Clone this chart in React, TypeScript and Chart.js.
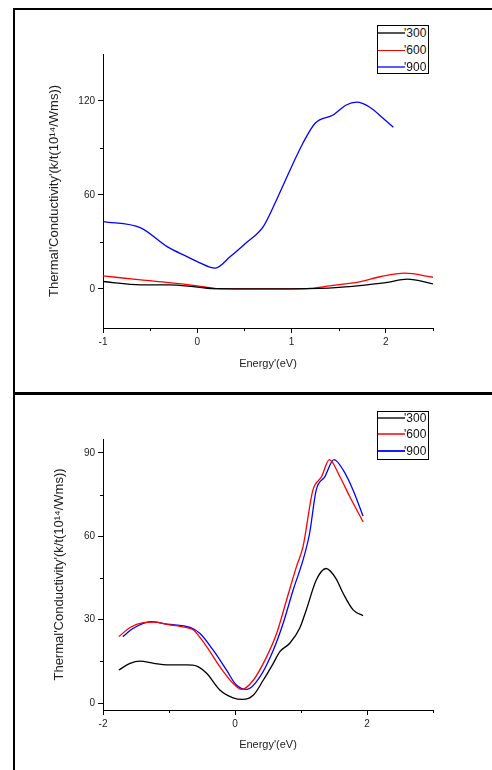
import React, { useEffect, useRef } from "react";
import { Chart, registerables } from "chart.js";
Chart.register(...registerables);

// ---------- Top panel data ----------
const topEnergy300 = [-1, -0.6, -0.3, 0, 0.2, 0.5, 1.0, 1.3, 1.5, 1.8, 2.0, 2.23, 2.5];
const topK300 = [4.7, 2.6, 2.6, 1.1, 0.1, 0, 0, 0.3, 1.0, 2.6, 4.0, 6.2, 3.2];
const topEnergy600 = [-1, -0.6, -0.3, 0, 0.2, 0.5, 1.0, 1.2, 1.4, 1.72, 1.95, 2.2, 2.5];
const topK600 = [8.3, 5.7, 4.0, 1.9, 0.2, 0, 0, 0.3, 1.9, 4.5, 7.9, 10, 7.4];
const topEnergy900 = [-1, -0.6, -0.32, -0.11, 0, 0.19, 0.35, 0.51, 0.7, 0.84, 1.0, 1.12, 1.25, 1.44, 1.58, 1.69, 1.83, 1.97, 2.08];
const topK900 = [43, 39, 27, 20.6, 17.4, 13.2, 20.6, 29, 39.8, 56.8, 78, 93, 105.8, 111, 117.4, 119.2, 116, 109, 103.2];
const topXMajor = [-1, 0, 1, 2];
const topXMinor = [-0.5, 0.5, 1.5, 2.5];
const topYMajor = [0, 60, 120];
const topYMinor = [30, 90];

// ---------- Bottom panel data ----------
const botEnergy300 = [-1.76, -1.59, -1.44, -1.23, -1.03, -0.73, -0.58, -0.43, -0.23, -0.03, 0.12, 0.28, 0.43, 0.58, 0.68, 0.83, 0.98, 1.08, 1.23, 1.38, 1.53, 1.64, 1.79, 1.94];
const botK300 = [11.9, 14.3, 15.1, 14.3, 13.7, 13.7, 13.3, 10.7, 4.7, 1.9, 1.3, 2.9, 8.3, 14.3, 18.5, 21.5, 26.9, 33.5, 44.2, 48.4, 44.8, 39.4, 33.5, 31.4];
const botEnergy600 = [-1.76, -1.59, -1.39, -1.23, -1.03, -0.73, -0.63, -0.43, -0.23, -0.03, 0.1, 0.28, 0.48, 0.63, 0.78, 0.93, 1.03, 1.18, 1.31, 1.43, 1.59, 1.74, 1.94];
const botK600 = [23.9, 27.2, 28.9, 29.1, 28.3, 27.1, 26.3, 20.3, 13.1, 7.1, 4.9, 8.3, 16.7, 25, 37, 49, 56.2, 76.6, 81.4, 87.6, 81.4, 74.2, 65.2];
const botEnergy900 = [-1.7, -1.54, -1.28, -1.03, -0.68, -0.53, -0.33, -0.13, 0.02, 0.18, 0.38, 0.58, 0.73, 0.88, 1.03, 1.13, 1.23, 1.36, 1.5, 1.64, 1.79, 1.94];
const botK900 = [23.9, 26.9, 29.3, 28.4, 27.2, 25, 19, 11.9, 6.5, 4.9, 9.5, 19, 28.7, 40.6, 51.4, 61, 76.6, 81.4, 87.6, 83.8, 76.6, 67.3];
const botXMajor = [-2, 0, 2];
const botXMinor = [-1, 1, 3];
const botYMajor = [0, 30, 60, 90];
const botYMinor = [15, 45, 75];

const seriesLabels = ["'300", "'600", "'900"];
const seriesColors = ["#000000", "#ff0000", "#0000ff"];
const yTitle = "Thermal'Conductivity'(k/t(10\u00B9\u2074/Wms))";
const xTitle = "Energy'(eV)";

const FONT = "'Liberation Sans', Arial, sans-serif";

const minorTickPlugin = {
  id: "minorTicks",
  afterDraw(chart: any, _args: any, opts: any) {
    const { ctx } = chart;
    const xs = chart.scales.x;
    const ys = chart.scales.y;
    ctx.save();
    ctx.strokeStyle = "#000";
    ctx.lineWidth = 1;
    ctx.beginPath();
    for (const v of opts.x || []) {
      const px = Math.round(xs.getPixelForValue(v)) + 0.5;
      ctx.moveTo(px, ys.bottom);
      ctx.lineTo(px, ys.bottom + 3);
    }
    for (const v of opts.y || []) {
      const py = Math.round(ys.getPixelForValue(v)) + 0.5;
      ctx.moveTo(xs.left, py);
      ctx.lineTo(xs.left - 3, py);
    }
    ctx.stroke();
    ctx.restore();
  },
};

function pts(xs: number[], ys: number[]) {
  return xs.map((x, i) => ({ x, y: ys[i] }));
}

type PanelProps = {
  width: number;
  height: number;
  series: { x: number[]; y: number[] }[];
  xMin: number;
  xMax: number;
  yMin: number;
  yMax: number;
  xMajor: number[];
  xMinor: number[];
  yMajor: number[];
  yMinor: number[];
  padTop: number;
  xAxisHeight: number;
  yTitlePad: number;
  xTitlePad: number;
};

function Panel(p: PanelProps) {
  const ref = useRef<HTMLCanvasElement | null>(null);
  useEffect(() => {
    if (!ref.current) return;
    const chart = new Chart(ref.current, {
      type: "line",
      data: {
        datasets: p.series.map((s, i) => ({
          label: seriesLabels[i],
          data: pts(s.x, s.y),
          borderColor: seriesColors[i],
          backgroundColor: seriesColors[i],
          borderWidth: 1.3,
          pointRadius: 0,
          fill: false,
          cubicInterpolationMode: "monotone" as const,
        })),
      },
      options: {
        responsive: false,
        animation: false,
        layout: { padding: { top: p.padTop, right: 59, left: 0, bottom: 0 } },
        plugins: {
          legend: { display: false },
          tooltip: { enabled: false },
          // @ts-ignore
          minorTicks: { x: p.xMinor, y: p.yMinor },
        },
        scales: {
          x: {
            type: "linear",
            min: p.xMin,
            max: p.xMax,
            afterBuildTicks: (s: any) => {
              s.ticks = p.xMajor.map((v) => ({ value: v }));
            },
            afterFit: (s: any) => {
              s.height = p.xAxisHeight;
            },
            grid: { drawOnChartArea: false, drawTicks: true, tickLength: 5, color: "#000", lineWidth: 1 },
            border: { display: true, color: "#000", width: 1 },
            ticks: { color: "#222", font: { family: FONT, size: 10 }, padding: 3, maxRotation: 0, callback: (v: any) => String(v) },
            title: { display: true, text: xTitle, color: "#222", font: { family: FONT, size: 11 }, padding: { top: 0, bottom: p.xTitlePad } },
          },
          y: {
            type: "linear",
            min: p.yMin,
            max: p.yMax,
            afterBuildTicks: (s: any) => {
              s.ticks = p.yMajor.map((v) => ({ value: v }));
            },
            afterFit: (s: any) => {
              s.width = 103;
            },
            grid: { drawOnChartArea: false, drawTicks: true, tickLength: 5, color: "#000", lineWidth: 1 },
            border: { display: true, color: "#000", width: 1 },
            ticks: { color: "#222", font: { family: FONT, size: 10 }, padding: 3, callback: (v: any) => String(v) },
            title: { display: true, text: yTitle, color: "#222", font: { family: FONT, size: 13 }, padding: { top: p.yTitlePad, bottom: 0 } },
          },
        },
      },
      plugins: [minorTickPlugin],
    } as any);
    return () => chart.destroy();
  }, []);
  return <canvas ref={ref} width={p.width} height={p.height} style={{ width: p.width, height: p.height, display: "block" }} />;
}

function Legend({ left, top, rowYs, variant }: { left: number; top: number; rowYs: number[]; variant: number }) {
  const lineStyles =
    variant === 0
      ? [
          { c: "#555", w: 2 },
          { c: "#ff0000", w: 1 },
          { c: "#5a5aff", w: 2 },
        ]
      : [
          { c: "#555", w: 2 },
          { c: "#ff4040", w: 1.5 },
          { c: "#1a1aff", w: 1.5 },
        ];
  return (
    <div
      style={{
        position: "absolute",
        left,
        top,
        width: 50,
        height: 47,
        border: "1px solid #000",
        background: "#fff",
      }}
    >
      {seriesLabels.map((lab, i) => (
        <div key={lab} style={{ position: "absolute", left: 0, top: rowYs[i] - top - 1 - 8, height: 16, width: 52 }}>
          <div
            style={{
              position: "absolute",
              left: 0,
              top: 8 - lineStyles[i].w / 2,
              width: 27,
              height: lineStyles[i].w,
              background: lineStyles[i].c,
            }}
          />
          <span
            style={{
              position: "absolute",
              left: 26,
              top: 0,
              lineHeight: "16px",
              fontFamily: FONT,
              fontSize: 12,
              color: "#111",
              whiteSpace: "nowrap",
            }}
          >
            {lab}
          </span>
        </div>
      ))}
    </div>
  );
}

export default function App() {
  return (
    <div style={{ position: "fixed", left: 0, top: 0, width: 492, height: 770, background: "#fff", overflow: "hidden" }}>
      <div style={{ position: "absolute", left: 0, top: 0 }}>
        <Panel
          width={492}
          height={390}
          series={[
            { x: topEnergy300, y: topK300 },
            { x: topEnergy600, y: topK600 },
            { x: topEnergy900, y: topK900 },
          ]}
          xMin={-1}
          xMax={2.5}
          yMin={-25}
          yMax={150}
          xMajor={topXMajor}
          xMinor={topXMinor}
          yMajor={topYMajor}
          yMinor={topYMinor}
          padTop={54}
          xAxisHeight={62}
          yTitlePad={47}
          xTitlePad={19}
        />
      </div>
      <div style={{ position: "absolute", left: 0, top: 392 }}>
        <Panel
          width={492}
          height={378}
          series={[
            { x: botEnergy300, y: botK300 },
            { x: botEnergy600, y: botK600 },
            { x: botEnergy900, y: botK900 },
          ]}
          xMin={-2}
          xMax={3}
          yMin={-2.5}
          yMax={95}
          xMajor={botXMajor}
          xMinor={botXMinor}
          yMajor={botYMajor}
          yMinor={botYMinor}
          padTop={47}
          xAxisHeight={60}
          yTitlePad={52}
          xTitlePad={18}
        />
      </div>
      <Legend left={377} top={25} rowYs={[33, 50, 67]} variant={0} />
      <Legend left={377} top={411} rowYs={[418, 434, 451]} variant={1} />
      {/* frame lines */}
      <div style={{ position: "absolute", left: 13, top: 8, width: 479, height: 2, background: "#000" }} />
      <div style={{ position: "absolute", left: 13, top: 8, width: 2, height: 762, background: "#000" }} />
      <div style={{ position: "absolute", left: 13, top: 392, width: 479, height: 3, background: "#000" }} />
    </div>
  );
}
